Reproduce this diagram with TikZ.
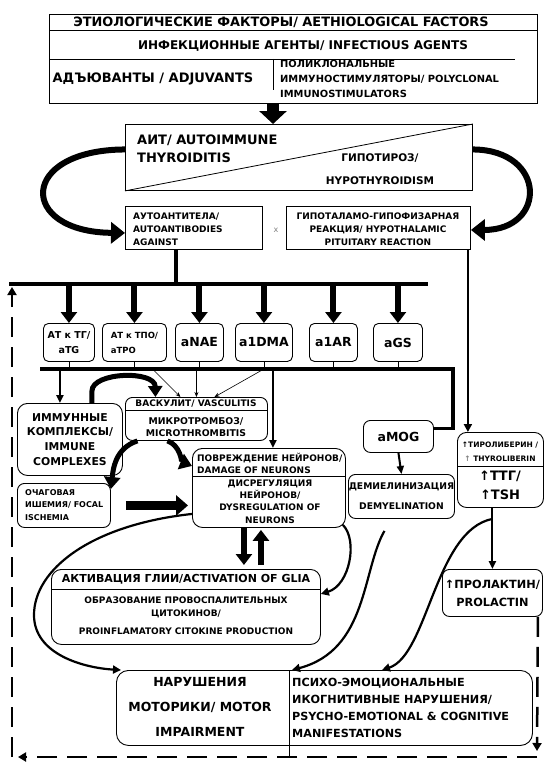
\documentclass[tikz,border=0pt]{standalone}
\usepackage{fontspec}
\setmainfont{DejaVu Sans}
\usetikzlibrary{positioning, arrows.meta, calc}

\tikzset{
  box/.style={draw, line width=0.9pt, inner sep=0pt, anchor=north west},
  rbox/.style={box, rounded corners=7pt},
  txt/.style 2 args={font=\bfseries\fontsize{#1}{#2}\selectfont, inner sep=0pt, align=center},
  bigarrow/.style={line width=6pt, -{Triangle[width=21pt,length=14pt]}},
  busarrow/.style={line width=6pt, -{Triangle[width=16pt,length=11pt]}},
  medarrow/.style={line width=2pt, -{Triangle[width=7pt,length=8pt]}},
  thinarrow/.style={line width=0.6pt, -{Stealth[length=5pt,width=4pt]}},
  curvearrow/.style={line width=2.2pt, -{Triangle[width=8pt,length=8pt]}},
  busline/.style={line width=4pt},
  loopline/.style={line width=2.5pt, dash pattern=on 20pt off 10pt},
}

\begin{document}
\begin{tikzpicture}[x=1pt, y=-1pt]
    \useasboundingbox (0,0) rectangle (552,768);

    % --- Aethiological factors ---
    \node[box, minimum width=488pt, minimum height=16pt] (etio) at (49,14) {};
    \node[txt={12.9}{14}] (etiot) at (281,22) {ЭТИОЛОГИЧЕСКИЕ ФАКТОРЫ/ AETHIOLOGICAL FACTORS};
    \node[box, minimum width=488pt, minimum height=73pt] (inf) at (49,30) {};
    \node[txt={12}{14}] (inft) at (303,46) {ИНФЕКЦИОННЫЕ АГЕНТЫ/ INFECTIOUS AGENTS};
    \coordinate (divtop) at (273,59);
    \draw[line width=0.7pt] (inf.west |- divtop) -- (515,59);
    \draw[line width=0.7pt] (divtop) -- ++(0,31);
    \node[txt={13}{14}] (adj) at (153,79) {АДЪЮВАНТЫ / ADJUVANTS};
    \node[txt={9.9}{15}, align=left, anchor=west] (poly) at (280,79) {ПОЛИКЛОНАЛЬНЫЕ\\ИММУНОСТИМУЛЯТОРЫ/ POLYCLONAL\\IMMUNOSTIMULATORS};

    % --- AIT / hypothyroidism ---
    \node[box, minimum width=347pt, minimum height=66pt] (ait) at (125,124) {};
    \draw[line width=0.8pt] (ait.south west) -- (ait.north east);
    \node[txt={13}{18}, align=left, anchor=west] (aitt) at (137,149) {АИТ/ AUTOIMMUNE\\THYROIDITIS};
    \node[txt={10.5}{23}] (hypo) at (380,169) {ГИПОТИРОЗ/\\HYPOTHYROIDISM};

    % --- Autoantibodies x HPA reaction ---
    \node[box, minimum width=137pt, minimum height=43pt] (ab) at (125,206) {};
    \node[txt={9}{13}, align=left, anchor=west] (abt) at (133,229) {АУТОАНТИТЕЛА/\\AUTOANTIBODIES\\AGAINST};
    \node[font=\fontsize{8}{8}\selectfont, text=gray, inner sep=0pt] (times) at (276,230) {x};
    \node[box, minimum width=184pt, minimum height=43pt] (hpa) at (286,206) {};
    \node[txt={9}{13}] (hpat) at (378,229) {ГИПОТАЛАМО-ГИПОФИЗАРНАЯ\\РЕАКЦИЯ/ HYPOTHALAMIC\\PITUITARY REACTION};

    % --- Antibodies ---
    \node[rbox, rounded corners=5pt, txt={9.5}{15}, minimum width=51pt, minimum height=38pt] (atg) at (43,323) {АТ к ТГ/\\aTG};
    \node[rbox, rounded corners=5pt, txt={8.5}{15}, align=left, minimum width=64pt, minimum height=38pt] (atpo) at (102,323) {АТ к ТПО/\\aTPO};
    \node[rbox, rounded corners=5pt, txt={12.5}{14}, minimum width=48pt, minimum height=38pt] (anae) at (175,323) {aNAE};
    \node[rbox, rounded corners=5pt, txt={12.5}{14}, minimum width=57pt, minimum height=38pt] (adma) at (235,323) {a1DMA};
    \node[rbox, rounded corners=5pt, txt={12.5}{14}, minimum width=48pt, minimum height=38pt] (aar) at (309,323) {a1AR};
    \node[rbox, rounded corners=5pt, txt={12.5}{14}, minimum width=49pt, minimum height=38pt] (ags) at (373,323) {aGS};

    % --- Middle boxes ---
    \node[rbox, rounded corners=10pt, txt={10.8}{14.7}, minimum width=105pt, minimum height=72pt] (imm) at (17,403) {ИММУННЫЕ\\КОМПЛЕКСЫ/\\IMMUNE\\COMPLEXES};
    \node[rbox, minimum width=142pt, minimum height=43pt] (vasc) at (125,397) {};
    \draw[line width=0.8pt] ([yshift=-13pt]vasc.north west) -- ([yshift=-13pt]vasc.north east);
    \node[txt={9}{10}] (vasct) at (196,403.5) {ВАСКУЛИТ/ VASCULITIS};
    \node[txt={9.3}{12.5}] (micro) at (196,427) {МИКРОТРОМБОЗ/\\MICROTHROMBITIS};
    \node[rbox, rounded corners=10pt, minimum width=153pt, minimum height=79pt] (dam) at (192,448) {};
    \draw[line width=0.8pt] ([yshift=-28pt]dam.north west) -- ([yshift=-28pt]dam.north east);
    \node[txt={9}{12}, align=left, anchor=west] (damt) at (197,463) {ПОВРЕЖДЕНИЕ НЕЙРОНОВ/\\DAMAGE OF NEURONS};
    \node[txt={9}{12.3}] (dysr) at (270,501.5) {ДИСРЕГУЛЯЦИЯ\\НЕЙРОНОВ/\\DYSREGULATION OF\\NEURONS};
    \node[rbox, minimum width=93pt, minimum height=44pt] (foc) at (17,483) {};
    \node[txt={8}{12.5}, align=left, anchor=west] (foct) at (25,505) {ОЧАГОВАЯ\\ИШЕМИЯ/ FOCAL\\ISCHEMIA};
    \node[rbox, txt={12.5}{14}, minimum width=70pt, minimum height=32pt] (amog) at (363,420) {aMOG};
    \node[rbox, txt={9.2}{20}, minimum width=106pt, minimum height=44pt] (demy) at (348,474) {ДЕМИЕЛИНИЗАЦИЯ\\DEMYELINATION};
    \node[rbox, rounded corners=9pt, minimum width=86pt, minimum height=75pt] (tsh) at (457,432) {};
    \draw[line width=0.8pt] ([yshift=-34pt]tsh.north west) -- ([yshift=-34pt]tsh.north east);
    \node[txt={7.5}{14}] (trl) at (500,452) {↑ТИРОЛИБЕРИН /\\{\color{gray}↑} THYROLIBERIN};
    \node[txt={13}{19}] (ttg) at (500,485) {↑ТТГ/\\↑TSH};

    % --- Lower boxes ---
    \node[rbox, rounded corners=10pt, minimum width=269pt, minimum height=75pt] (glia) at (51,569) {};
    \draw[line width=0.8pt] ([yshift=-20pt]glia.north west) -- ([yshift=-20pt]glia.north east);
    \node[txt={11}{12}] (gliat) at (186,579) {АКТИВАЦИЯ ГЛИИ/ACTIVATION OF GLIA};
    \node[txt={9}{13}] (cyto) at (186,616) {ОБРАЗОВАНИЕ ПРОВОСПАЛИТЕЛЬНЫХ\\ЦИТОКИНОВ/\\[5pt]PROINFLAMATORY CITOKINE PRODUCTION};
    \node[rbox, txt={11.3}{18}, minimum width=100pt, minimum height=47pt] (pro) at (442,569) {↑ПРОЛАКТИН/\\PROLACTIN};
    \node[rbox, rounded corners=12pt, minimum width=416pt, minimum height=75pt] (mot) at (116,670) {};
    \coordinate (mdiv) at (289,670);
    \node[txt={12.5}{25}] (mott) at (200,707) {НАРУШЕНИЯ\\МОТОРИКИ/ MOTOR\\IMPAIRMENT};
    \node[txt={11.2}{17}, align=left, anchor=west] (psy) at (292,708) {ПСИХО-ЭМОЦИОНАЛЬНЫЕ\\ИКОГНИТИВНЫЕ НАРУШЕНИЯ/\\PSYCHO-EMOTIONAL \& COGNITIVE\\MANIFESTATIONS};

    % --- Connectors: top ---
    \draw[line width=12pt, -{Triangle[width=27pt,length=13pt]}] (inf.south -| divtop) -- (ait.north -| divtop);
    \draw[bigarrow] ([yshift=8pt]ait.west) .. controls (18,150) and (18,232) .. ([yshift=-5pt]ab.west);
    \draw[bigarrow] ([yshift=8pt]ait.east) .. controls (547,150) and (547,230) .. ([yshift=-2pt]hpa.east);

    % upper bus
    \coordinate (busL) at (9,284);
    \coordinate (busR) at (428,284);
    \draw[busline] (busL) -- (busR);
    \draw[busline] ([xshift=-17.5pt]ab.south) -- ([xshift=-17.5pt]ab.south |- busL);
    \foreach \n in {atg,atpo,anae,adma,aar,ags}
        \draw[busarrow] (\n.north |- busL) -- (\n.north);

    % lower bus
    \coordinate (lbL) at (40,369);
    \coordinate (lbR) at (453,369);
    \foreach \n in {atg,atpo,anae,adma,aar,ags}
        \draw[line width=0.9pt] (\n.south) -- (\n.south |- lbL);
    \draw[line width=3.5pt] (lbL) -- (lbR) |- ([yshift=8pt]amog.east);

    % --- Connectors: middle ---
    \draw[medarrow] ([xshift=-10pt]imm.north |- lbL) -- ([xshift=-10pt]imm.north);
    \draw[line width=5pt, -{Triangle[width=14pt,length=11pt]}] ([xshift=22pt]imm.north) -- ++(0,-12) .. controls (92,372) and (155,370) .. ([xshift=-41pt]vasc.north);
    \draw[thinarrow] ([xshift=18pt]atpo.south |- lbL) -- ([xshift=-16pt]vasc.north);
    \draw[thinarrow] (vasc.north |- lbL) -- (vasc.north);
    \draw[thinarrow] (adma.south |- lbL) -- ([xshift=18pt]vasc.north);
    \draw[medarrow] ([xshift=4pt]dam.north |- lbL) -- ([xshift=4pt]dam.north);
    \draw[line width=5pt, -{Triangle[width=16pt,length=12pt]}] ([xshift=-29pt]vasc.south) .. controls (180,445) and (182,462) .. ([yshift=22pt]dam.west);
    \draw[line width=5pt, -{Triangle[width=16pt,length=12pt]}] ([xshift=-59pt]vasc.south) .. controls (115,448) and (113,470) .. ([yshift=-6pt]foc.north east);
    \draw[line width=9pt, -{Triangle[width=20pt,length=12pt]}] ([xshift=15pt]foc.east) -- ([xshift=-4pt]dam.west |- foc.east);
    \draw[medarrow] (amog.south) -- (demy.north);
    \draw[curvearrow] ([xshift=-3pt]hpa.south east) -- ([xshift=-3pt]hpa.south east |- tsh.north);
    \draw[medarrow] (pro.north |- tsh.south) -- (pro.north);

    % --- Connectors: lower ---
    \draw[busarrow] ([xshift=-25pt]dam.south) -- ([xshift=-25pt, yshift=4pt]dam.south |- glia.north);
    \draw[busarrow] ([xshift=-8pt, yshift=4pt]dam.south |- glia.north) -- ([xshift=-8pt, yshift=-2pt]dam.south);
    \draw[curvearrow] ([xshift=-3pt, yshift=3pt]dam.south east) .. controls (358,540) and (350,585) .. ([yshift=13pt]glia.east);
    \draw[curvearrow] ([yshift=-26pt]dam.west) .. controls (90,525) and (34,570) .. (34,615) .. controls (34,655) and (85,668) .. ([xshift=5pt]mot.north west);
    \draw[curvearrow] ([xshift=-17pt, yshift=-12pt]demy.south) .. controls (362,570) and (368,650) .. ([xshift=3pt]mdiv);
    \draw[curvearrow] ([yshift=-11pt]pro.north |- tsh.south) .. controls (435,530) and (428,655) .. ([xshift=266pt]mot.north west);

    % --- Feedback loop (dashed) ---
    \coordinate (lpBR) at (537,757);
    \coordinate (lpBL) at (12,757);
    \draw (mdiv) -- (mdiv |- lpBL);
    \draw[loopline, -{Triangle[width=9pt,length=8pt]}] ([xshift=-5pt]pro.south east) -- ([yshift=6pt]lpBR);
    \draw[loopline, -{Triangle[width=9pt,length=8pt]}] (lpBR) -- ([xshift=6pt]lpBL);
    \draw[loopline, -{Triangle[width=9pt,length=8pt]}] (lpBL) -- ([yshift=-3pt]lpBL |- busL);
\end{tikzpicture}
\end{document}
